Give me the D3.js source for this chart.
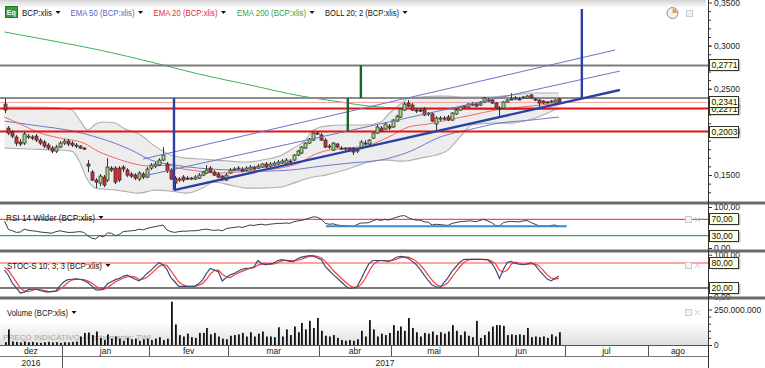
<!DOCTYPE html>
<html><head><meta charset="utf-8">
<script src="https://cdn.jsdelivr.net/npm/d3@7/dist/d3.min.js"></script>
<style>
html,body{margin:0;padding:0;background:#fff;}
svg{display:block;font-family:"Liberation Sans",Arial,sans-serif;}
</style></head>
<body><svg id="chart" width="765" height="368"></svg>
<script>
// ---------- DATA ----------
const openP=[0.2323,0.2044,0.1998,0.1940,0.1882,0.1870,0.1940,0.1940,0.1951,0.1905,0.1882,0.1847,0.1812,0.1777,0.1824,
0.1870,0.1893,0.1870,0.1847,0.1835,0.1812,0.1627,0.1534,0.1441,0.1406,0.1476,0.1441,0.1580,0.1580,0.1580,0.1592,0.1557,0.1511,0.1499,0.1453,0.1511,0.1476,
0.1580,0.1603,0.1615,0.1673,0.1627,0.1557,0.1464,0.1441,0.1476,0.1464,0.1453,0.1453,0.1464,0.1499,0.1522,0.1580,0.1534,0.1511,0.1487,0.1441,
0.1522,0.1557,0.1569,0.1569,0.1557,0.1569,0.1592,0.1580,0.1592,0.1627,0.1603,0.1615,0.1627,0.1638,0.1638,0.1661,0.1673,0.1731,0.1754,0.1812,0.1870,0.1905,0.1986,
0.1963,0.1905,0.1824,0.1789,0.1859,0.1812,0.1812,0.1812,0.1812,0.1777,0.1812,0.1870,0.1859,0.1928,0.1986,0.2044,0.2033,0.2067,
0.2056,0.2125,0.2172,0.2253,0.2334,0.2311,0.2253,0.2253,0.2265,0.2218,0.2207,0.2091,0.2149,0.2160,0.2172,0.2137,0.2207,0.2253,0.2288,0.2288,0.2311,0.2323,
0.2311,0.2346,0.2369,0.2369,0.2334,0.2276,0.2276,0.2346,0.2381,0.2381,0.2381,0.2392,0.2392,0.2427,0.2381,0.2369,0.2357,0.2346,0.2346,0.2346,0.2381];
const highP=[0.2392,0.2067,0.2021,0.1963,0.1917,0.1998,0.1975,0.1963,0.1975,0.1928,0.1905,0.1870,0.1835,0.1847,0.1893,
0.1917,0.1917,0.1893,0.1870,0.1847,0.1824,0.1673,0.1557,0.1464,0.1511,0.1499,0.1696,0.1603,0.1603,0.1603,0.1615,0.1580,0.1534,0.1522,0.1545,0.1534,0.1592,
0.1638,0.1650,0.1696,0.1824,0.1650,0.1580,0.1487,0.1476,0.1499,0.1487,0.1476,0.1499,0.1522,0.1545,0.1615,0.1603,0.1557,0.1534,0.1499,0.1522,
0.1580,0.1592,0.1603,0.1592,0.1603,0.1615,0.1603,0.1627,0.1638,0.1650,0.1650,0.1661,0.1673,0.1685,0.1696,0.1685,0.1743,0.1789,0.1835,0.1882,0.1928,0.1998,0.2009,
0.1986,0.1928,0.1859,0.1882,0.1870,0.1835,0.1824,0.1824,0.1824,0.1812,0.1905,0.1905,0.1917,0.1998,0.2079,0.2067,0.2114,0.2091,
0.2149,0.2195,0.2276,0.2346,0.2369,0.2334,0.2276,0.2276,0.2288,0.2230,0.2230,0.2183,0.2183,0.2183,0.2195,0.2230,0.2276,0.2299,0.2311,0.2334,0.2346,0.2334,
0.2357,0.2404,0.2392,0.2381,0.2346,0.2299,0.2357,0.2381,0.2450,0.2415,0.2404,0.2415,0.2427,0.2439,0.2392,0.2381,0.2369,0.2357,0.2369,0.2381,0.2392];
const lowP=[0.2218,0.1963,0.1928,0.1835,0.1835,0.1847,0.1917,0.1905,0.1882,0.1847,0.1812,0.1789,0.1754,0.1754,0.1812,
0.1847,0.1835,0.1824,0.1812,0.1801,0.1789,0.1534,0.1429,0.1348,0.1371,0.1360,0.1418,0.1534,0.1395,0.1418,0.1534,0.1476,0.1464,0.1441,0.1429,0.1453,0.1464,
0.1557,0.1580,0.1603,0.1661,0.1522,0.1441,0.1325,0.1418,0.1418,0.1441,0.1441,0.1441,0.1453,0.1487,0.1511,0.1522,0.1487,0.1464,0.1429,0.1429,
0.1511,0.1545,0.1557,0.1534,0.1545,0.1557,0.1557,0.1569,0.1580,0.1580,0.1592,0.1603,0.1615,0.1627,0.1627,0.1638,0.1661,0.1719,0.1743,0.1801,0.1859,0.1893,0.1963,
0.1893,0.1812,0.1801,0.1777,0.1812,0.1789,0.1777,0.1766,0.1731,0.1754,0.1801,0.1847,0.1847,0.1917,0.1975,0.1998,0.2021,0.2021,
0.2044,0.2114,0.2160,0.2241,0.2288,0.2241,0.2218,0.2230,0.2183,0.2183,0.2114,0.2021,0.2125,0.2137,0.2125,0.2125,0.2195,0.2241,0.2276,0.2276,0.2299,0.2288,
0.2299,0.2334,0.2346,0.2323,0.2265,0.2172,0.2265,0.2334,0.2369,0.2369,0.2369,0.2381,0.2381,0.2381,0.2357,0.2288,0.2323,0.2334,0.2334,0.2334,0.2323];
const closeP=[0.2253,0.1986,0.1951,0.1870,0.1859,0.1975,0.1951,0.1928,0.1905,0.1870,0.1835,0.1812,0.1777,0.1824,0.1870,
0.1893,0.1859,0.1847,0.1835,0.1812,0.1801,0.1603,0.1441,0.1418,0.1487,0.1383,0.1592,0.1557,0.1418,0.1441,0.1569,0.1499,0.1487,0.1464,0.1522,0.1476,0.1569,
0.1615,0.1627,0.1673,0.1731,0.1545,0.1453,0.1406,0.1453,0.1441,0.1464,0.1464,0.1476,0.1499,0.1534,0.1557,0.1534,0.1499,0.1476,0.1453,0.1499,
0.1557,0.1569,0.1580,0.1545,0.1580,0.1592,0.1569,0.1603,0.1627,0.1592,0.1627,0.1638,0.1650,0.1661,0.1673,0.1650,0.1731,0.1777,0.1824,0.1870,0.1917,0.1986,0.1975,
0.1905,0.1824,0.1835,0.1870,0.1824,0.1801,0.1801,0.1789,0.1766,0.1789,0.1882,0.1870,0.1905,0.1986,0.2056,0.2009,0.2091,0.2044,
0.2137,0.2183,0.2265,0.2323,0.2299,0.2253,0.2241,0.2253,0.2195,0.2207,0.2125,0.2160,0.2160,0.2149,0.2137,0.2218,0.2253,0.2288,0.2299,0.2323,0.2323,0.2299,
0.2334,0.2392,0.2369,0.2334,0.2276,0.2265,0.2346,0.2369,0.2381,0.2392,0.2381,0.2404,0.2415,0.2392,0.2369,0.2334,0.2334,0.2346,0.2357,0.2369,0.2341];
// volume in millions of shares
const volumeM=[20,110,25,22,18,25,20,22,18,15,20,22,18,20,15,
20,18,22,25,60,85,88,70,95,50,35,75,45,60,45,30,50,40,45,30,40,45,
35,45,55,35,45,305,145,70,60,80,55,50,85,85,120,75,85,60,45,40,
65,70,75,85,60,90,60,80,95,60,60,55,125,60,110,70,130,90,155,110,170,120,190,
100,65,60,70,50,35,30,35,30,40,100,60,175,110,60,80,70,85,
140,100,130,100,190,120,90,60,85,80,95,70,90,80,95,140,100,70,95,65,55,170,
50,70,95,130,140,140,135,70,75,70,75,70,120,55,60,55,60,50,75,60,90];
const rsi14=[66,45,42,38,39,46,43,42,41,39,38,37,36,40,42,
40,38,38,39,40,38,30,24,22,30,27,37,36,30,33,40,41,42,43,46,44,48,
50,52,54,56,44,40,38,40,41,41,42,42,43,45,46,44,43,44,42,47,
49,50,52,50,53,56,55,57,58,56,58,59,60,60,61,60,64,66,67,70,73,76,75,
70,60,58,59,56,55,54,54,52,57,61,61,62,66,70,67,70,68,
72,75,78,79,74,70,68,68,64,63,56,58,57,56,55,60,62,64,65,66,66,64,
67,70,66,62,55,54,62,64,65,64,64,66,67,62,58,54,54,53,55,56,53];
const stochK=[63,50,31,20,8,10,16,17,17,14,12,10,12,13,25,
35,40,41,42,41,38,33,25,16,15,18,30,35,40,43,48,51,46,41,37,45,55,
63,72,81,76,65,45,35,24,24,24,24,24,30,39,55,67,63,59,37,45,
52,55,60,65,67,68,71,86,78,76,78,80,86,88,86,84,84,90,94,96,98,97,92,
88,72,62,52,44,35,26,19,20,23,40,60,78,86,86,86,85,84,
88,94,96,94,91,84,76,64,51,38,27,23,21,33,45,60,71,82,89,89,89,89,
89,88,88,80,65,43,65,82,84,79,77,76,78,81,75,63,52,42,37,43,49];
const stochD=[70,62,48,34,20,13,11,14,17,16,14,12,11,12,17,
24,33,39,41,41,40,37,32,25,19,16,21,28,35,39,44,47,48,46,41,41,46,
54,63,72,76,74,62,48,35,28,24,24,24,26,31,41,54,62,63,53,47,
45,51,56,60,64,67,69,75,78,80,77,78,81,85,87,86,85,86,89,93,96,97,96,
92,84,74,62,53,44,35,27,22,21,28,41,59,75,83,86,86,85,
86,89,93,95,94,90,84,75,64,51,39,29,24,26,33,46,59,71,81,87,89,89,
89,89,88,85,78,63,58,63,77,82,80,77,77,78,78,73,63,52,44,41,43];
// indicator curves read at selected bars: [bar index, price]
const ema20=[[0,0.2172],[4,0.2091],[9,0.1986],[14,0.1928],[20,0.1870],[24,0.1766],[28,0.1696],[32,0.1638],[37,0.1603],[41,0.1615],[44,0.1580],[49,0.1545],[54,0.1522],[59,0.1534],[65,0.1557],[71,0.1592],[75,0.1650],[78,0.1731],[82,0.1789],[87,0.1812],[92,0.1847],[97,0.1940],[102,0.2056],[107,0.2091],[113,0.2149],[118,0.2195],[124,0.2253],[133,0.2299],[140,0.2334]];
const ema50=[[0,0.2125],[9,0.2067],[16,0.2021],[24,0.1928],[32,0.1789],[37,0.1673],[43,0.1615],[49,0.1580],[57,0.1557],[65,0.1545],[72,0.1557],[80,0.1603],[87,0.1638],[95,0.1673],[102,0.1766],[110,0.1940],[118,0.2033],[125,0.2102],[133,0.2137],[140,0.2172]];
const ema200=[[0,0.3158],[11,0.3065],[24,0.2949],[37,0.2810],[49,0.2671],[62,0.2543],[75,0.2415],[85,0.2346],[92,0.2299],[100,0.2276],[113,0.2265],[125,0.2259],[140,0.2265]];
const bollIdx=[0,6,14,17,19,21,23,25,28,30,34,38,42,46,50,53,57,61,65,70,73,76,78,81,86,91,95,97,100,102,105,109,112,115,118,123,128,134,140];
const bollUpper=[0.2288,0.2288,0.2276,0.2253,0.2137,0.2021,0.2091,0.2114,0.2102,0.2044,0.1975,0.1835,0.1731,0.1696,0.1685,0.1673,0.1661,0.1650,0.1673,0.1731,0.1812,0.1905,0.2021,0.2067,0.2079,0.2079,0.2114,0.2207,0.2323,0.2392,0.2404,0.2415,0.2415,0.2404,0.2404,0.2404,0.2427,0.2450,0.2450];
const bollLower=[0.1812,0.1801,0.1789,0.1777,0.1650,0.1441,0.1348,0.1337,0.1325,0.1313,0.1290,0.1325,0.1313,0.1290,0.1348,0.1418,0.1383,0.1348,0.1348,0.1360,0.1406,0.1453,0.1476,0.1499,0.1557,0.1638,0.1673,0.1673,0.1661,0.1666,0.1696,0.1731,0.1789,0.1940,0.2079,0.2102,0.2102,0.2160,0.2276];
// drawn annotations (bar index / price)
const levelPrices=[0.2771,0.2392,0.2341,0.2271,0.2003];
const boxPrices=[0.2771,0.2271,0.2341,0.2003];
const trendLines=[[42.8,0.1325,155.4,0.2485],[35,0.1685,154.2,0.2949],[35,0.1487,155.4,0.2705]];
const verticalMarks=[[42.8,0.1325,0.2392],[86.7,0.2003,0.2392],[90,0.2392,0.2771],[145.8,0.2392,0.3425]];
const rsiSupport=[81.2,142,52.9];
const months=["dez","jan","fev","mar","abr","mai","jun","jul","ago"];
const monthFirstBar=[0,15,37,57,80,98,120,142,163];
const years=["2016","2017"];
const yearFirstBar=[0,15];
const priceTicks=[0.15,0.20,0.25,0.30,0.35];
const rsiLevels=[70,30];
const stochLevels=[80,20];
const volTicks=[0,250000000];
const legendMain=["BCP:xlis","EMA 50 (BCP:xlis)","EMA 20 (BCP:xlis)","EMA 200 (BCP:xlis)","BOLL 20; 2 (BCP:xlis)"];

// ---------- DRAW ----------
const svg=d3.select("#chart");
const defs=svg.append("defs");
function clip(id,x0,y0,w,h){defs.append("clipPath").attr("id",id).append("rect").attr("x",x0).attr("y",y0).attr("width",w).attr("height",h);}
clip("cMain",0,0,708,201);clip("cRsi",0,204,708,46);clip("cSto",0,252,708,45);clip("cVol",0,299,708,46);
function vgrad(id,c0,c1){const g=defs.append("linearGradient").attr("id",id).attr("x1",0).attr("x2",0).attr("y1",0).attr("y2",1);
 g.append("stop").attr("offset","0%").attr("stop-color",c0);g.append("stop").attr("offset","100%").attr("stop-color",c1);}
vgrad("gHead","#d4d4d4","#ffffff");vgrad("gVol","#ffffff","#dedede");

svg.append("rect").attr("width",765).attr("height",368).attr("fill","#fff");
svg.append("rect").attr("x",0).attr("y",0).attr("width",706).attr("height",8).attr("fill","url(#gHead)");
svg.append("rect").attr("x",0).attr("y",322).attr("width",708).attr("height",23).attr("fill","url(#gVol)");

const x=d3.scaleLinear().domain([-1.14,177.66]).range([0,708]);
const yP=d3.scaleLinear().domain([0.15,0.35]).range([175,2.5]);
const yR=d3.scaleLinear().domain([0,100]).range([248,207]);
const yS=d3.scaleLinear().domain([0,100]).range([296.3,254.7]);
const yV=d3.scaleLinear().domain([0,250000000]).range([345,309.5]);
const bars=d3.range(closeP.length);

// main panel
const gM=svg.append("g").attr("clip-path","url(#cMain)");
gM.append("path").datum(bollIdx).attr("fill","#ededed")
  .attr("d",d3.area().curve(d3.curveMonotoneX).x(i=>x(i)).y0((i,k)=>yP(bollLower[k])).y1((i,k)=>yP(bollUpper[k])));
[bollUpper,bollLower].forEach(arr=>{
  gM.append("path").datum(bollIdx).attr("fill","none").attr("stroke","#b0b0b0").attr("stroke-width",1.1)
   .attr("d",d3.line().curve(d3.curveMonotoneX).x(i=>x(i)).y((i,k)=>yP(arr[k])));
});
const pl=d3.line().curve(d3.curveMonotoneX).x(d=>x(d[0])).y(d=>yP(d[1]));
gM.append("path").datum(ema200).attr("fill","none").attr("stroke","#3cb35a").attr("stroke-width",1).attr("d",pl);
gM.append("path").datum(ema50).attr("fill","none").attr("stroke","#6a7bcc").attr("stroke-width",1).attr("d",pl);
gM.append("path").datum(ema20).attr("fill","none").attr("stroke","#f06a6a").attr("stroke-width",1).attr("d",pl);

const levelColor=["#7c7c7c","#8c8c8c","#f4a2a2","#e41414","#e41414"];
const levelWidth=[2,2,1,2,2];
levelPrices.forEach((p,k)=>{
  gM.append("line").attr("x1",0).attr("x2",708).attr("y1",yP(p)).attr("y2",yP(p))
   .attr("stroke",levelColor[k]).attr("stroke-width",levelWidth[k]);
});

// candles
const cg=gM.append("g");
cg.selectAll("line.w").data(bars).join("line").attr("class","w")
  .attr("x1",i=>Math.round(x(i))+0.5).attr("x2",i=>Math.round(x(i))+0.5)
  .attr("y1",i=>yP(highP[i])).attr("y2",i=>yP(lowP[i])).attr("stroke","#333").attr("stroke-width",1);
cg.selectAll("rect.b").data(bars).join("rect").attr("class","b")
  .attr("x",i=>Math.round(x(i))-1)
  .attr("width",3)
  .attr("y",i=>Math.min(yP(openP[i]),yP(closeP[i])))
  .attr("height",i=>Math.max(1,Math.abs(yP(openP[i])-yP(closeP[i]))))
  .attr("fill",i=>closeP[i]>openP[i]?"#a2dd7c":(closeP[i]<openP[i]?"#e8242a":"#333"))
  .attr("stroke","#333").attr("stroke-width",0.8);

// trend lines and markers
const tlColor=["#2c3fa2","#6677c6","#6677c6"];
const tlWidth=[2.4,1,1];
trendLines.forEach((t,k)=>{
  gM.append("line").attr("x1",x(t[0])).attr("y1",yP(t[1])).attr("x2",x(t[2])).attr("y2",yP(t[3]))
   .attr("stroke",tlColor[k]).attr("stroke-width",tlWidth[k]);
});
const vmColor=["#2c3fa2","#17652a","#17652a","#2c3fa2"];
verticalMarks.forEach((v,k)=>{
  gM.append("line").attr("x1",x(v[0])).attr("x2",x(v[0])).attr("y1",yP(v[1])).attr("y2",yP(v[2]))
   .attr("stroke",vmColor[k]).attr("stroke-width",2.4);
});

// RSI panel
const gR=svg.append("g").attr("clip-path","url(#cRsi)");
const rsiCol=["#ff4a4a","#3fa24f"];
rsiLevels.forEach((v,k)=>gR.append("line").attr("x1",0).attr("x2",708).attr("y1",yR(v)).attr("y2",yR(v)).attr("stroke",rsiCol[k]).attr("stroke-width",1.2));
gR.append("path").datum(rsi14).attr("fill","none").attr("stroke","#3c3c3c").attr("stroke-width",1)
  .attr("d",d3.line().x((d,i)=>x(i)).y(d=>yR(d)));
gR.append("line").attr("x1",x(rsiSupport[0])).attr("x2",x(rsiSupport[1])).attr("y1",yR(rsiSupport[2])).attr("y2",yR(rsiSupport[2]))
  .attr("stroke","#3a8ad4").attr("stroke-width",2);

// STOCH panel
const gS=svg.append("g").attr("clip-path","url(#cSto)");
gS.append("line").attr("x1",0).attr("x2",708).attr("y1",yS(stochLevels[0])).attr("y2",yS(stochLevels[0])).attr("stroke","#ff4a4a").attr("stroke-width",1.2);
gS.append("line").attr("x1",0).attr("x2",708).attr("y1",yS(stochLevels[1])).attr("y2",yS(stochLevels[1])).attr("stroke","#7d7d7d").attr("stroke-width",2.2);
gS.append("path").datum(stochD).attr("fill","none").attr("stroke","#ff3a3a").attr("stroke-width",1.2)
  .attr("d",d3.line().x((d,i)=>x(i)).y(d=>yS(d)));
gS.append("path").datum(stochK).attr("fill","none").attr("stroke","#3b4d72").attr("stroke-width",1.2)
  .attr("d",d3.line().x((d,i)=>x(i)).y(d=>yS(d)));

// Volume panel
const gV=svg.append("g").attr("clip-path","url(#cVol)");
gV.append("text").attr("x",3).attr("y",340).attr("font-size",8).attr("fill","#a8a8a8")
  .attr("textLength",148).attr("lengthAdjust","spacingAndGlyphs").text("PREÇO INDICATIVO - Fechamento: TWI");
gV.selectAll("rect").data(bars).join("rect")
  .attr("x",i=>Math.round(x(i))).attr("width",1.8)
  .attr("y",i=>yV(volumeM[i]*1e6)).attr("height",i=>yV(0)-yV(volumeM[i]*1e6)).attr("fill","#111");

// date axis
const gD=svg.append("g");
gD.append("line").attr("x1",0).attr("x2",708).attr("y1",345.5).attr("y2",345.5).attr("stroke","#555");
gD.append("line").attr("x1",0).attr("x2",708).attr("y1",356.5).attr("y2",356.5).attr("stroke","#777");
const mEdges=monthFirstBar.map(b=>b===0?0:x(b-0.5)).concat([708]);
months.forEach((m,k)=>{
  if(k>0) gD.append("line").attr("x1",Math.round(mEdges[k])+0.5).attr("x2",Math.round(mEdges[k])+0.5).attr("y1",345.5).attr("y2",356.5).attr("stroke","#555");
  gD.append("text").attr("x",(mEdges[k]+mEdges[k+1])/2).attr("y",354).attr("text-anchor","middle").attr("font-size",8.5).attr("fill","#222").text(m);
});
const yEdges=yearFirstBar.map(b=>b===0?0:x(b-0.5)).concat([708]);
years.forEach((yy,k)=>{
  if(k>0) gD.append("line").attr("x1",Math.round(yEdges[k])+0.5).attr("x2",Math.round(yEdges[k])+0.5).attr("y1",356.5).attr("y2",368).attr("stroke","#555");
  gD.append("text").attr("x",(yEdges[k]+yEdges[k+1])/2).attr("y",366).attr("text-anchor","middle").attr("font-size",8.5).attr("fill","#222").text(yy);
});

// right axes
const fmtP=d=>d3.format(".4f")(d).replace(".",",");
const fmt2=d=>d3.format(".2f")(d).replace(".",",");
function styleAxis(g){g.select(".domain").remove();g.selectAll("text").attr("font-size",8.5).attr("fill","#222").attr("font-family","Liberation Sans, Arial, sans-serif");g.selectAll("line").attr("stroke","#333");}
svg.append("g").attr("transform","translate(708,0)")
  .call(d3.axisRight(yP).tickValues(d3.range(13,35).map(v=>v/100)).tickSize(3).tickFormat(""))
  .call(styleAxis);
svg.append("g").attr("transform","translate(708,0)")
  .call(d3.axisRight(yP).tickValues(priceTicks).tickSize(4).tickPadding(2).tickFormat(fmtP))
  .call(styleAxis);
svg.append("g").attr("transform","translate(708,0)")
  .call(d3.axisRight(yR).tickValues([0,100]).tickSize(4).tickPadding(2).tickFormat(fmt2)).call(styleAxis);
svg.append("g").attr("transform","translate(708,0)")
  .call(d3.axisRight(yS).tickValues([0,100]).tickSize(4).tickPadding(2).tickFormat(fmt2)).call(styleAxis);
svg.append("g").attr("transform","translate(708,0)")
  .call(d3.axisRight(yV).tickValues(d3.range(50e6,250e6,50e6)).tickSize(3).tickFormat("")).call(styleAxis);
svg.append("g").attr("transform","translate(708,0)")
  .call(d3.axisRight(yV).tickValues(volTicks).tickSize(4).tickPadding(2).tickFormat(d=>d3.format(",")(d).replace(/,/g,"."))).call(styleAxis);

// value boxes
function valueBox(yc,txt){
  const g=svg.append("g");
  g.append("rect").attr("x",710.5).attr("y",Math.round(yc)-5.5).attr("width",29).attr("height",11).attr("fill","#555").attr("opacity",0.35).attr("transform","translate(1,1)");
  g.append("rect").attr("x",709.5).attr("y",Math.round(yc)-5.5).attr("width",29).attr("height",11).attr("fill","#ffffe1").attr("stroke","#333");
  g.append("text").attr("x",711.5).attr("y",Math.round(yc)+3).attr("font-size",8.5).attr("fill","#111").text(txt);
}
boxPrices.forEach(p=>valueBox(yP(p),fmtP(p)));
rsiLevels.forEach(v=>valueBox(yR(v),fmt2(v)));
stochLevels.forEach(v=>valueBox(yS(v),fmt2(v)));

// separators
[203,251,298].forEach(yy=>svg.append("rect").attr("x",0).attr("y",yy-1.5).attr("width",765).attr("height",3).attr("fill","#6a6a6a"));
svg.append("line").attr("x1",708.5).attr("x2",708.5).attr("y1",0).attr("y2",368).attr("stroke","#333");

// legends
function drop(xx,yy,g){g.append("path").attr("d",`M${xx-2.5},${yy-5}L${xx+2.5},${yy-5}L${xx},${yy-2}Z`).attr("fill","#111");}
const lg=svg.append("g");
lg.append("rect").attr("x",5.5).attr("y",6.5).attr("width",12).attr("height",11).attr("fill","#35a03c").attr("stroke","#24742a");
lg.append("text").attr("x",6.8).attr("y",15).attr("font-size",7).attr("font-weight","bold").attr("fill","#fff").text("Eq");
const legX=[22,70.5,153.5,237,325], legW=[30,64,64,69,74], legC=["#111","#5466c4","#e42e2e","#2ea64c","#111"];
legendMain.forEach((t,k)=>{
  lg.append("text").attr("x",legX[k]).attr("y",16).attr("font-size",8.5).attr("fill",legC[k])
    .attr("textLength",legW[k]).attr("lengthAdjust","spacingAndGlyphs").text(t);
  drop(legX[k]+legW[k]+6,16,lg);
});
const subLeg=[["RSI 14 Wilder (BCP:xlis)",6,221,89],["STOC-S 10; 3; 3 (BCP:xlis)",7,269,95],["Volume (BCP:xlis)",7,316,61]];
subLeg.forEach(s=>{
  lg.append("text").attr("x",s[1]).attr("y",s[2]).attr("font-size",8.5).attr("fill","#111")
    .attr("textLength",s[3]).attr("lengthAdjust","spacingAndGlyphs").text(s[0]);
  drop(s[1]+s[3]+6,s[2],lg);
});
// small window icons
[[220],[266],[313]].forEach(r=>{
  lg.append("rect").attr("x",685.5).attr("y",r[0]-3.5).attr("width",6).attr("height",6).attr("fill","#f2f4f6").attr("stroke","#c4ccd4");
  lg.append("path").attr("d",`M695,${r[0]-3}L700,${r[0]+2}M700,${r[0]-3}L695,${r[0]+2}`).attr("stroke","#c8c8c8").attr("stroke-width",1);
});
lg.append("circle").attr("cx",672.5).attr("cy",13).attr("r",5.5).attr("fill","#eef2f8").attr("stroke","#7d93b8");
lg.append("path").attr("d","M672.5,13L672.5,8.5A4.5,4.5 0 0 1 677,13Z").attr("fill","#f39a3a");
lg.append("rect").attr("x",686.5).attr("y",10.5).attr("width",6).attr("height",6).attr("fill","#eef1f4").attr("stroke","#c4ccd4");
</script>
</body></html>
